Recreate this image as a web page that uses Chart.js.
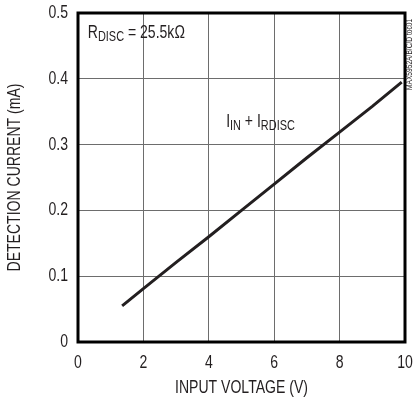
<!DOCTYPE html>
<html>
<head>
<meta charset="utf-8">
<script src="https://cdn.jsdelivr.net/npm/chart.js@4"></script>
<style>
html,body{margin:0;padding:0;background:#fff;}
#wrap{width:415px;height:402px;position:relative;}
</style>
</head>
<body>
<div id="wrap"><canvas id="c" width="415" height="402"></canvas></div>
<script>
const voltage = [1.35, 2, 3, 4, 5, 6, 7, 8, 9, 9.9];
const current = [0.055, 0.081, 0.121, 0.160, 0.200, 0.240, 0.280, 0.319, 0.358, 0.395];
const xTicks = [0, 2, 4, 6, 8, 10];
const yTicks = [0, 0.1, 0.2, 0.3, 0.4, 0.5];
const xTitle = 'INPUT VOLTAGE (V)';
const yTitle = 'DETECTION CURRENT (mA)';
const note1 = {x: 0.30, y: 0.462};
const note2 = {x: 4.53, y: 0.327};
const watermark = 'MAX5952A/B/C/D toc01';

const FONT = "'Liberation Sans Narrow', 'Liberation Sans', Arial, sans-serif";
const SQUEEZE = 0.78;   // condensed look of the original typeface
const INK = '#231f20';

const canvas = document.getElementById('c');
const c2d = canvas.getContext('2d');
const origFill = c2d.fillText.bind(c2d);
c2d.fillText = function (t, x, y, mw) {
  this.save();
  this.translate(x, y);
  this.scale(SQUEEZE, 1);
  origFill(t, 0, 0);
  this.restore();
};

const annot = {
  id: 'annot',
  afterDraw(chart) {
    const ctx = chart.ctx, a = chart.chartArea;
    const xs = chart.scales.x, ys = chart.scales.y;
    ctx.save();
    ctx.strokeStyle = '#000';
    ctx.lineWidth = 3;
    ctx.strokeRect(a.left, a.top, a.right - a.left, a.bottom - a.top);
    ctx.fillStyle = INK;
    ctx.textBaseline = 'alphabetic';
    ctx.textAlign = 'left';
    function run(parts, x, y) {
      for (const p of parts) {
        ctx.font = (p.sub ? '14px ' : '18px ') + FONT;
        ctx.fillText(p.t, x, y + (p.sub ? 3 : 0));
        x += ctx.measureText(p.t).width * SQUEEZE;
      }
    }
    run([{t: 'R'}, {t: 'DISC', sub: true}, {t: ' = 25.5kΩ'}],
        xs.getPixelForValue(note1.x), ys.getPixelForValue(note1.y));
    run([{t: 'I'}, {t: 'IN', sub: true}, {t: ' + I'}, {t: 'RDISC', sub: true}],
        xs.getPixelForValue(note2.x), ys.getPixelForValue(note2.y));
    ctx.translate(412, 90);
    ctx.rotate(-Math.PI / 2);
    ctx.font = '8.5px ' + FONT;
    ctx.fillText(watermark, 0, 0);
    ctx.restore();
  }
};

new Chart(canvas, {
  type: 'scatter',
  data: {
    datasets: [{
      data: voltage.map((v, i) => ({x: v, y: current[i]})),
      showLine: true,
      borderColor: INK,
      borderWidth: 3,
      pointRadius: 0,
      tension: 0
    }]
  },
  options: {
    responsive: false,
    animation: false,
    devicePixelRatio: 1,
    layout: {padding: {top: 13, right: 10, left: 0, bottom: 0}},
    plugins: {legend: {display: false}, tooltip: {enabled: false}},
    scales: {
      x: {
        type: 'linear', min: 0, max: 10,
        afterBuildTicks(s) { s.ticks = xTicks.map(v => ({value: v})); },
        afterFit(s) { s.height = 60; s.paddingLeft = 0; s.paddingRight = 0; },
        grid: {color: '#6d6d6d', lineWidth: 1, drawTicks: false},
        border: {display: false},
        ticks: {color: INK, padding: 10, font: {family: FONT, size: 18}},
        title: {display: true, text: xTitle, color: INK, padding: {top: 0, bottom: 3}, font: {family: FONT, size: 18}}
      },
      y: {
        type: 'linear', min: 0, max: 0.5,
        afterBuildTicks(s) { s.ticks = yTicks.map(v => ({value: v})); },
        afterFit(s) { s.width = 78; s.paddingTop = 0; s.paddingBottom = 0; },
        grid: {color: '#6d6d6d', lineWidth: 1, drawTicks: false},
        border: {display: false},
        ticks: {color: INK, padding: 10, font: {family: FONT, size: 18},
                callback: v => v === 0 ? '0' : v.toFixed(1)},
        title: {display: true, text: yTitle, color: INK, padding: {top: 4, bottom: 0}, font: {family: FONT, size: 18}}
      }
    }
  },
  plugins: [annot]
});
</script>
</body>
</html>
